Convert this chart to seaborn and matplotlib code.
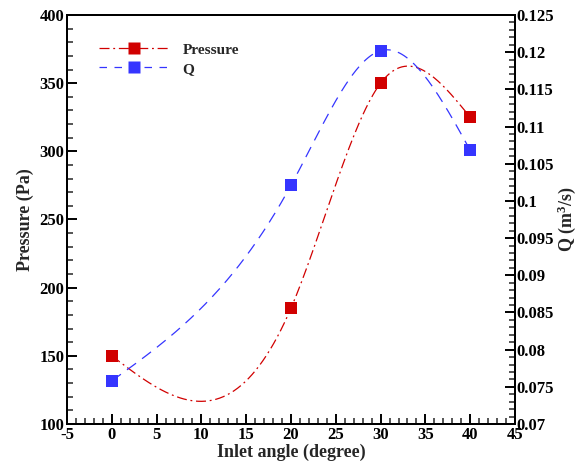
import numpy as np
import pandas as pd
import matplotlib
matplotlib.use("Agg")
import matplotlib.pyplot as plt
import seaborn as sns
from matplotlib.lines import Line2D
from matplotlib.ticker import MultipleLocator, FuncFormatter

angles = [0, 20, 30, 40]
pressure = [150, 185, 350, 325]
flow_q = [0.0758, 0.1021, 0.1202, 0.1068]

x_ticks = [-5, 0, 5, 10, 15, 20, 25, 30, 35, 40, 45]
p_ticks = [100, 150, 200, 250, 300, 350, 400]
q_ticks = [0.07, 0.075, 0.08, 0.085, 0.09, 0.095, 0.1, 0.105, 0.11, 0.115, 0.12, 0.125]


def natural_spline(x, y, n=300):
    x = np.asarray(x, float)
    y = np.asarray(y, float)
    m = len(x)
    h = np.diff(x)
    A = np.zeros((m, m))
    r = np.zeros(m)
    A[0, 0] = 1
    A[-1, -1] = 1
    for i in range(1, m - 1):
        A[i, i - 1] = h[i - 1]
        A[i, i] = 2 * (h[i - 1] + h[i])
        A[i, i + 1] = h[i]
        r[i] = 6 * ((y[i + 1] - y[i]) / h[i] - (y[i] - y[i - 1]) / h[i - 1])
    M = np.linalg.solve(A, r)
    xs = np.linspace(x[0], x[-1], n)
    ys = np.empty_like(xs)
    for k, xv in enumerate(xs):
        i = min(np.searchsorted(x, xv, side="right") - 1, m - 2)
        t1 = x[i + 1] - xv
        t0 = xv - x[i]
        ys[k] = (M[i] * t1 ** 3 + M[i + 1] * t0 ** 3) / (6 * h[i]) \
            + (y[i] / h[i] - M[i] * h[i] / 6) * t1 \
            + (y[i + 1] / h[i] - M[i + 1] * h[i] / 6) * t0
    return xs, ys


sns.set_theme(style="white")
plt.rcParams["font.family"] = ["Liberation Serif", "DejaVu Serif"]
plt.rcParams["font.weight"] = "bold"
plt.rcParams["mathtext.fontset"] = "custom"
plt.rcParams["mathtext.rm"] = "Liberation Serif:bold"
plt.rcParams["mathtext.default"] = "rm"
plt.rcParams["axes.unicode_minus"] = False

red = "#d10000"
blue = "#3535ff"

fig = plt.figure(figsize=(5.79, 4.68), dpi=100)
ax = fig.add_axes([0.1157, 0.094, 0.7738, 0.874])
ax2 = ax.twinx()

px, py = natural_spline(angles, pressure)
qx, qy = natural_spline(angles, flow_q)

sns.lineplot(x=px, y=py, ax=ax, color=red, lw=0.9, legend=False)
ax.lines[-1].set_dashes([8, 3, 1.5, 3])
sns.scatterplot(x=angles, y=pressure, ax=ax, color=red, marker="s", s=75,
                edgecolor="none", zorder=5, legend=False)

sns.lineplot(x=qx, y=qy, ax=ax2, color=blue, lw=0.9, legend=False)
ax2.lines[-1].set_dashes([9, 6])
sns.scatterplot(x=angles, y=flow_q, ax=ax2, color=blue, marker="s", s=75,
                edgecolor="none", zorder=5, legend=False)

ax.set_xlim(-5, 45)
ax.set_ylim(100, 400)
ax2.set_ylim(0.07, 0.125)
ax.set_xticks(x_ticks)
ax.set_yticks(p_ticks)
ax2.set_yticks(q_ticks)
ax.xaxis.set_minor_locator(MultipleLocator(1))
ax.yaxis.set_minor_locator(MultipleLocator(10))
ax2.yaxis.set_minor_locator(MultipleLocator(0.001))
ax2.yaxis.set_major_formatter(FuncFormatter(lambda v, p: ("%.3f" % v).rstrip("0").rstrip(".")))

for a in (ax, ax2):
    for s in a.spines.values():
        s.set_color("black")
        s.set_linewidth(1.4)
ax.tick_params(axis="both", which="major", direction="in", length=7.5, width=1.4,
               labelsize=12, colors="black", pad=2, top=False, right=False, left=True, bottom=True)
ax.tick_params(axis="both", which="minor", direction="in", length=4.3, width=1.1,
               top=False, right=False, left=True, bottom=True)
ax2.tick_params(axis="y", which="major", direction="in", length=7.5, width=1.4,
                labelsize=12, colors="black", pad=1, right=True)
ax2.tick_params(axis="y", which="minor", direction="in", length=4.3, width=1.1, right=True)
for lab in ax.get_xticklabels() + ax.get_yticklabels() + ax2.get_yticklabels():
    lab.set_fontweight("bold")

ax.set_xlabel("Inlet angle (degree)", fontsize=13, fontweight="bold", labelpad=1)
ax.set_ylabel("Pressure (Pa)", fontsize=13, fontweight="bold", labelpad=4)
ax2.set_ylabel("Q (m$^3$/s)", fontsize=13, fontweight="bold", labelpad=1)

h1 = Line2D([], [], color=red, lw=0.9, dashes=[8, 3, 1.5, 3], marker="s", markersize=9,
            markeredgecolor="none")
h2 = Line2D([], [], color=blue, lw=0.9, dashes=[6, 6], marker="s", markersize=9,
            markeredgecolor="none")
ax.legend([h1, h2], ["Pressure", "Q"], loc="upper left", bbox_to_anchor=(0.04, 0.965),
          frameon=False, handlelength=4.6, handletextpad=0.9, labelspacing=0.35,
          prop={"weight": "bold", "size": 11})

fig.savefig("out.png", dpi=100)
